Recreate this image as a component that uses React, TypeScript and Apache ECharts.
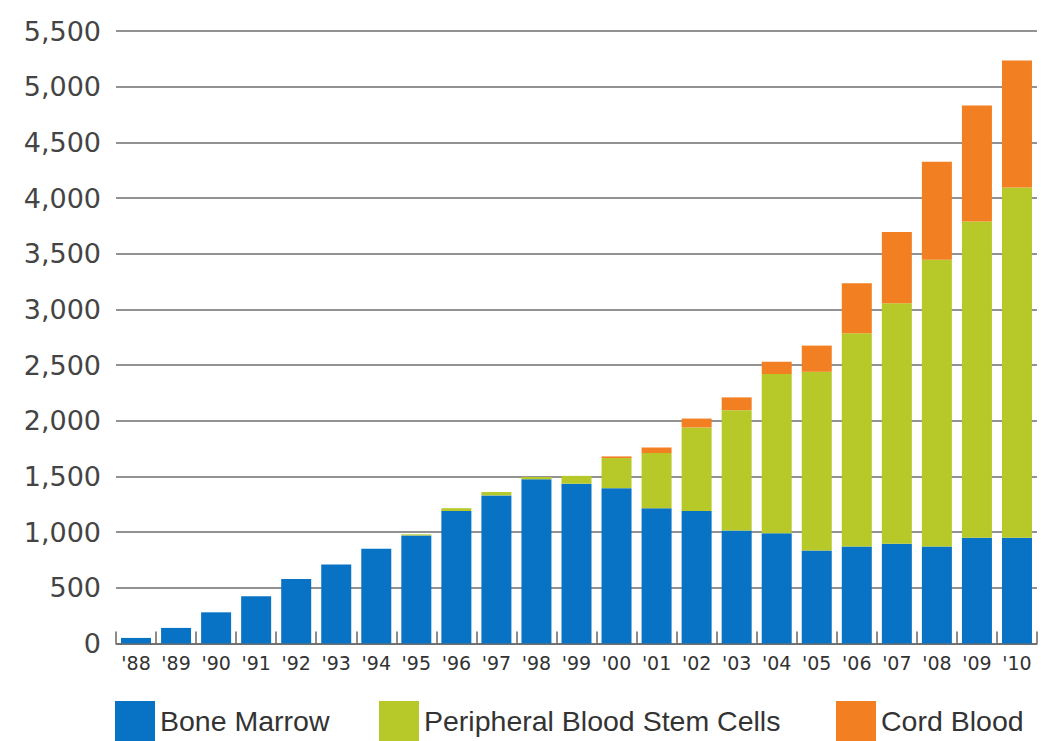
import React, { useEffect, useRef } from "react";
import * as echarts from "echarts";

// Transplants by stem-cell source, 1988–2010
const years = ["'88", "'89", "'90", "'91", "'92", "'93", "'94", "'95", "'96", "'97", "'98", "'99", "'00", "'01", "'02", "'03", "'04", "'05", "'06", "'07", "'08", "'09", "'10"];
const boneMarrow = [50, 140, 280, 425, 580, 710, 850, 970, 1190, 1330, 1475, 1435, 1395, 1215, 1190, 1015, 990, 835, 870, 895, 870, 950, 950];
const peripheralBlood = [0, 0, 0, 0, 0, 0, 0, 10, 25, 30, 20, 70, 270, 495, 750, 1080, 1430, 1605, 1915, 2160, 2575, 2840, 3145];
const cordBlood = [0, 0, 0, 0, 0, 0, 0, 0, 0, 0, 0, 0, 15, 50, 80, 115, 110, 235, 450, 640, 880, 1040, 1140];
const seriesNames = ["Bone Marrow", "Peripheral Blood Stem Cells", "Cord Blood"];
const colors = ["#0873c4", "#b7c928", "#f27f22"];

const withCommas = (v: number) => String(v).replace(/\B(?=(\d{3})+(?!\d))/g, ",");

export default function App() {
  const ref = useRef<HTMLDivElement>(null);

  useEffect(() => {
    if (!ref.current) return;
    const chart = echarts.init(ref.current, undefined, { renderer: "svg" });
    const legendText = { fontFamily: "Liberation Sans", fontSize: 28.5, color: "#333" };
    const legendBase = {
      top: 701,
      padding: 0,
      itemWidth: 40,
      itemHeight: 40,
      icon: "rect",
      itemGap: 0,
      textStyle: legendText,
      selectedMode: false,
    };
    chart.setOption({
      animation: false,
      backgroundColor: "#ffffff",
      color: colors,
      grid: { left: 116, right: 4, top: 31, bottom: 97.5, containLabel: false },
      legend: [
        { ...legendBase, left: 115, data: [seriesNames[0]] },
        { ...legendBase, left: 379, data: [seriesNames[1]] },
        { ...legendBase, left: 836, data: [seriesNames[2]] },
      ],
      xAxis: {
        type: "category",
        data: years,
        axisLine: { show: true, lineStyle: { color: "#666", width: 1.5 } },
        axisTick: { show: true, inside: true, length: 12, lineStyle: { color: "#666", width: 1.5 } },
        axisLabel: { fontFamily: "DejaVu Sans", fontSize: 19, color: "#333", margin: 10 },
      },
      yAxis: {
        type: "value",
        min: 0,
        max: 5500,
        interval: 500,
        axisLine: { show: false },
        axisTick: { show: false },
        splitLine: { lineStyle: { color: "#6e6e6e", width: 1.5 } },
        axisLabel: {
          fontFamily: "DejaVu Sans",
          fontSize: 27,
          color: "#444",
          margin: 15,
          formatter: (v: number) => withCommas(v),
        },
      },
      series: [
        { name: seriesNames[0], type: "bar", stack: "total", data: boneMarrow, barWidth: 30 },
        { name: seriesNames[1], type: "bar", stack: "total", data: peripheralBlood, barWidth: 30 },
        { name: seriesNames[2], type: "bar", stack: "total", data: cordBlood, barWidth: 30 },
      ],
    });
    return () => chart.dispose();
  }, []);

  return (
    <div
      ref={ref}
      style={{ position: "fixed", left: 0, top: 0, width: 1041, height: 741, background: "#fff" }}
    />
  );
}
